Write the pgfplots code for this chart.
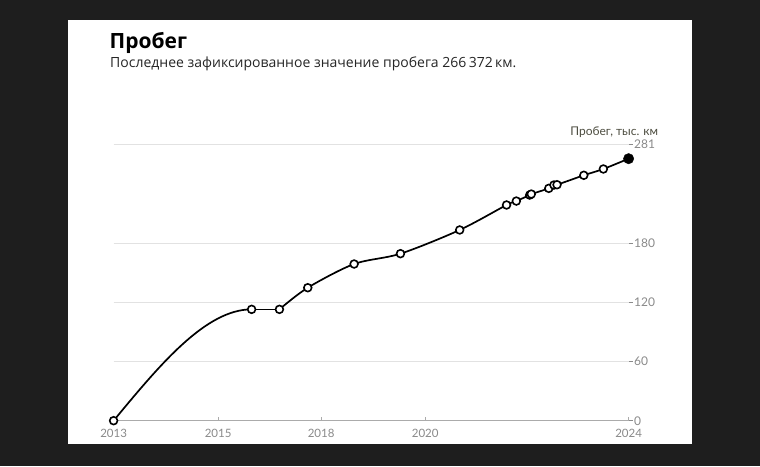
\documentclass[border=0pt]{standalone}
\usepackage{fontspec}
\setmainfont{Lato}
\newfontfamily\subfont{Open Sans}
\usepackage{pgfplots}
\pgfplotsset{compat=1.18}
\definecolor{bg}{HTML}{1E1E1E}
\definecolor{gridc}{HTML}{E2E2E2}
\definecolor{tickc}{HTML}{8A8A8A}
\definecolor{axc}{HTML}{ABABAB}
\definecolor{labc}{HTML}{4D4D40}
\begin{document}
\begin{tikzpicture}
\fill[bg] (0pt,0pt) rectangle (760pt,466pt);
\fill[white] (68pt,22pt) rectangle (692pt,446pt);
\node[anchor=base west, inner sep=0pt, font=\subfont\bfseries\fontsize{21}{24}\selectfont] at (109.5pt,417.7pt) {Пробег};
\node[anchor=base west, inner sep=0pt, font=\subfont\fontsize{14}{16}\selectfont, text=black!85] at (110pt,398.3pt) {Последнее зафиксированное значение пробега 266\,372\,км.};
\node[anchor=base east, inner sep=0pt, font=\fontsize{12}{14}\selectfont, text=labc] at (658.3pt,330.3pt) {Пробег, тыс. км};
\begin{axis}[
  at={(113.6pt,45.3pt)}, anchor=south west,
  scale only axis, width=515pt, height=276.4pt,
  xmin=2014, xmax=2024, ymin=0, ymax=281,
  axis line style={draw=none},
  clip=false,
  ytick={0,60,120,180,281},
  yticklabel pos=right, ytick pos=right,
  ymajorgrids, grid style={gridc, line width=1.3pt},
  tick align=outside,
  major tick length=4pt,
  ytick style={tickc, line width=0.8pt},
  yticklabel style={anchor=west, xshift=-2pt, font=\fontsize{12}{14}\selectfont, text=tickc},
  xtick={2014,2016.03,2018.03,2020.05,2024},
  xticklabels={2013,2015,2018,2020,2024},
  xtick style={draw=none},
  xticklabel style={yshift=-1pt, font=\fontsize{11.5}{13}\selectfont, text=tickc},
  /pgf/number format/assume math mode=true,
]
\draw[axc, line width=1.3pt] (axis cs:2014,0) -- (axis cs:2024,0);
\draw[axc, line width=0.8pt] (axis cs:2016.03,0) -- (axis cs:2016.03,4);
\draw[axc, line width=0.8pt] (axis cs:2018.03,0) -- (axis cs:2018.03,4);
\draw[axc, line width=0.8pt] (axis cs:2020.05,0) -- (axis cs:2020.05,4);
\draw[axc, line width=0.8pt] (axis cs:2024,0) -- (axis cs:2024,4);
% first segment (monotone curve between the first two readings)
\draw[black, line width=1.7pt] (axis cs:2014,0) .. controls (axis cs:2014.893,56.5) and (axis cs:2015.787,113.2) .. (axis cs:2016.68,113.2);
\addplot[black, line width=1.7pt, forget plot] coordinates {(2016.68,113.2) (2017.22,113.2)};
\addplot[black, line width=1.7pt, smooth, tension=0.5, forget plot] coordinates {
(2017.22,113.2)
(2017.77,135.2)
(2018.67,159.3)
(2019.57,169.8)
(2020.72,193.9)
(2021.63,219.3)
(2021.82,223.3)
(2022.08,229.4)
(2022.11,230.4)
(2022.45,236.2)
(2022.55,239.6)
(2022.61,239.9)
(2023.13,249.5)
(2023.51,255.9)
(2024.00,266.372)
};
\addplot[only marks, mark=*, mark size=3.9pt,
  mark options={fill=white, draw=black, line width=1.6pt}] coordinates {
(2014.00,0)
(2016.68,113.2)
(2017.22,113.2)
(2017.77,135.2)
(2018.67,159.3)
(2019.57,169.8)
(2020.72,193.9)
(2021.63,219.3)
(2021.82,223.3)
(2022.08,229.4)
(2022.11,230.4)
(2022.45,236.2)
(2022.55,239.6)
(2022.61,239.9)
(2023.13,249.5)
(2023.51,255.9)
};
\addplot[only marks, mark=*, mark size=5.2pt, black] coordinates {(2024.00,266.372)};
\end{axis}
\end{tikzpicture}
\end{document}
